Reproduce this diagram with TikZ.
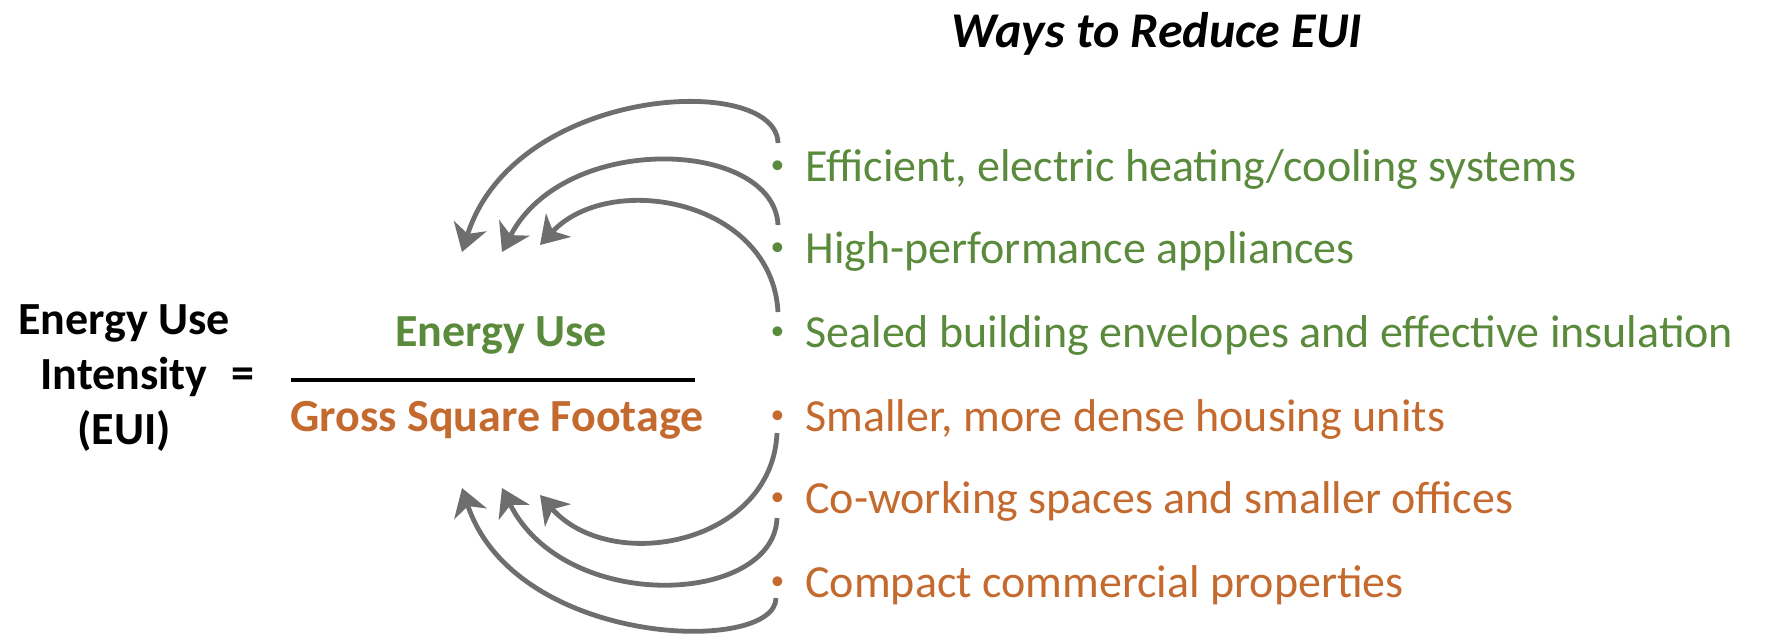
\documentclass[tikz,border=0pt]{standalone}
\usepackage{fontspec}
\setmainfont{Carlito}
\usetikzlibrary{arrows.meta}
\definecolor{eugreen}{HTML}{5A8A3C}
\definecolor{euorange}{HTML}{C46A2E}
\definecolor{arrgray}{HTML}{6E6E6E}
\begin{document}
\begin{tikzpicture}[x=0.5pt,y=-0.5pt,
  item/.style={anchor=base west, inner sep=0, font=\fontsize{23}{27}\selectfont},
  greenitem/.style={item, text=eugreen},
  orangeitem/.style={item, text=euorange},
  lbl/.style={font=\fontsize{23}{27.5}\selectfont\bfseries, inner sep=0},
  arr/.style={draw=arrgray, line width=2.4pt, -{Stealth[length=13.5pt,width=17pt,inset=4pt]}}]
\useasboundingbox (0,0) rectangle (1771,634);
\newcommand{\bul}{\llap{\makebox[0pt]{\raisebox{4pt}{\scalebox{0.6}{•}}}\hspace{14pt}}}
% title
\node[font=\fontsize{25}{30}\selectfont\bfseries\itshape, inner sep=0] (title) at (1157,34) {Ways to Reduce EUI};
% left formula
\node[lbl, align=center] (eui) at (124,378) {Energy Use\\Intensity\\(EUI)};
\node[lbl] (eq) at (243,378) {=};
\node[lbl, text=eugreen] (num) at (501,335) {Energy Use};
\node[lbl, text=euorange] (den) at (497,420) {Gross Square Footage};
\coordinate (fl) at (291,380);
\coordinate (fr) at (695,380);
\draw[line width=2pt] (fl) -- (fr);
% bullets
\node[greenitem] (b1) at (805,181) {\bul Efficient, electric heating/cooling systems};
\node[greenitem] (b2) at (805,263) {\bul High-performance appliances};
\node[greenitem] (b3) at (805,347) {\bul Sealed building envelopes and effective insulation};
\node[orangeitem] (b4) at (805,431) {\bul Smaller, more dense housing units};
\node[orangeitem] (b5) at (805,513) {\bul Co-working spaces and smaller offices};
\node[orangeitem] (b6) at (805,597) {\bul Compact commercial properties};
% arrows
\coordinate (s1) at (778,143); \coordinate (t1) at (462,252);
\coordinate (s2) at (778,225); \coordinate (t2) at (502,252);
\coordinate (s3) at (778,312); \coordinate (t3) at (540,245);
\coordinate (s4) at (777,433); \coordinate (t4) at (540,495);
\coordinate (s5) at (777,518); \coordinate (t5) at (502,488);
\coordinate (s6) at (776,598); \coordinate (t6) at (462,488);
\draw[arr] (s1) .. controls (776,72) and (515,85) .. (t1);
\draw[arr] (s2) .. controls (774,140) and (565,130) .. (t2);
\draw[arr] (s3) .. controls (772,200) and (610,170) .. (t3);
\draw[arr] (s4) .. controls (772,545) and (610,575) .. (t4);
\draw[arr] (s5) .. controls (774,605) and (565,615) .. (t5);
\draw[arr] (s6) .. controls (776,655) and (515,648) .. (t6);
\end{tikzpicture}
\end{document}
